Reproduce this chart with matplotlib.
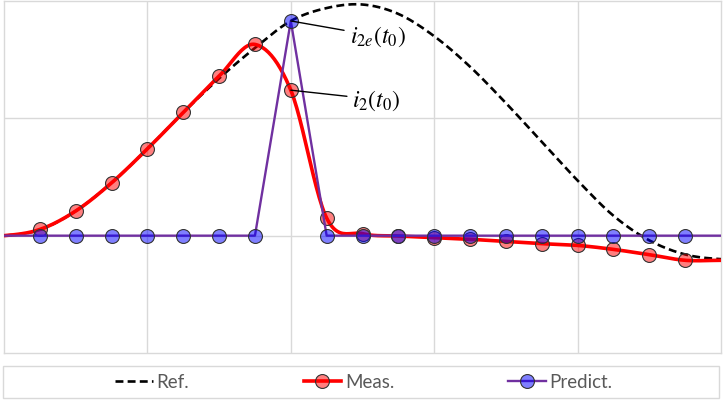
import numpy as np
import matplotlib.pyplot as plt
from matplotlib.patches import Rectangle

# sample positions (t axis, 0..5 in steps of 0.25)
t = [0.0, 0.25, 0.5, 0.75, 1.0, 1.25, 1.5, 1.75, 2.0, 2.25, 2.5,
     2.75, 3.0, 3.25, 3.5, 3.75, 4.0, 4.25, 4.5, 4.75, 5.0]

ref = [0.0, 0.05, 0.21, 0.45, 0.74, 1.05, 1.34, 1.60, 1.83, 1.94, 1.97,
       1.89, 1.70, 1.44, 1.13, 0.80, 0.47, 0.17, -0.04, -0.16, -0.20]

meas = [0.0, 0.053, 0.21, 0.45, 0.74, 1.05, 1.36, 1.63, 1.24, 0.15, 0.017,
        -0.003, -0.017, -0.031, -0.049, -0.068, -0.083, -0.117, -0.162, -0.21, -0.21]

predict = [0.0, 0.0, 0.0, 0.0, 0.0, 0.0, 0.0, 0.0, 1.83, 0.0, 0.0,
           0.0, 0.0, 0.0, 0.0, 0.0, 0.0, 0.0, 0.0, 0.0, 0.0]

labels = ["Ref.", "Meas.", "Predict."]


def smooth(x, y, n=24):
    # catmull-rom rendering of a smoothed line (like a spreadsheet "smoothed line")
    x = np.asarray(x, float)
    y = np.asarray(y, float)
    xs, ys = [], []
    for i in range(len(x) - 1):
        y0 = y[i - 1] if i > 0 else y[i]
        y3 = y[i + 2] if i + 2 < len(y) else y[i + 1]
        m1 = (y[i + 1] - y0) / 2
        m2 = (y3 - y[i]) / 2
        s = np.linspace(0, 1, n, endpoint=False)
        h00 = 2 * s**3 - 3 * s**2 + 1
        h10 = s**3 - 2 * s**2 + s
        h01 = -2 * s**3 + 3 * s**2
        h11 = s**3 - s**2
        xs.append(x[i] + s * (x[i + 1] - x[i]))
        ys.append(h00 * y[i] + h10 * m1 + h01 * y[i + 1] + h11 * m2)
    xs.append([x[-1]])
    ys.append([y[-1]])
    return np.concatenate(xs), np.concatenate(ys)


plt.rcParams['mathtext.fontset'] = 'stix'

fig = plt.figure(figsize=(7.24, 4.02), dpi=100)
ax = fig.add_axes([4 / 724, 1 - 354 / 402, 717 / 724, 352 / 402])

grid_c = "#d9d9d9"
ax.set_xlim(0, 5)
ax.set_ylim(-1, 2)
ax.set_xticks([1, 2, 3, 4])
ax.set_yticks([0, 1])
ax.tick_params(length=0, labelbottom=False, labelleft=False)
ax.grid(True, color=grid_c, linewidth=1)
for s in ax.spines.values():
    s.set_color(grid_c)
    s.set_linewidth(1)

mk = dict(marker="o", markersize=10, markeredgecolor="#333333", markeredgewidth=0.8)

xr, yr = smooth(t, ref)
ax.plot(xr, yr, color="black", linestyle=(0, (3, 1.6)), linewidth=1.9, zorder=3)

xm, ym = smooth(t, meas)
ax.plot(xm, ym, color="red", linewidth=2.6, zorder=4)
ax.plot(t[1:-1], meas[1:-1], linestyle="none", markerfacecolor=(1, 0, 0, 0.5),
        zorder=5, **mk)

ax.plot(t, predict, color="#7030a0", linewidth=1.7, markevery=slice(1, -1),
        markerfacecolor=(0, 0, 1, 0.5), zorder=6, **mk)

ax.annotate(r"$i_{2e}(t_0)$", xy=(2.0, predict[8]), xytext=(2.41, 1.70),
            ha="left", va="center", fontsize=17,
            arrowprops=dict(arrowstyle="-", color="black", lw=1, shrinkA=2, shrinkB=0),
            zorder=7)
ax.annotate(r"$i_2(t_0)$", xy=(2.0, meas[8]), xytext=(2.43, 1.16),
            ha="left", va="center", fontsize=17,
            arrowprops=dict(arrowstyle="-", color="black", lw=1, shrinkA=2, shrinkB=0),
            zorder=7)

# legend box
fig.patches.append(Rectangle((3 / 724, 1 - 399 / 402), 716 / 724, 32 / 402,
                             transform=fig.transFigure, fill=False,
                             edgecolor=grid_c, linewidth=1))

h_ref, = ax.plot([], [], color="black", linestyle=(0, (3, 1.6)), linewidth=1.9)
h_meas, = ax.plot([], [], color="red", linewidth=2.6,
                  markerfacecolor=(1, 0, 0, 0.5), **mk)
h_pred, = ax.plot([], [], color="#7030a0", linewidth=1.7,
                  markerfacecolor=(0, 0, 1, 0.5), **mk)
leg = fig.legend([h_ref, h_meas, h_pred], labels, loc="center",
                 bbox_to_anchor=(364 / 724, 1 - 383 / 402), ncol=3, frameon=False,
                 handlelength=2.0, handletextpad=0.2, columnspacing=6.1,
                 prop={"family": "Lato", "size": 13.5})
for txt in leg.get_texts():
    txt.set_color("#595959")

fig.savefig("out.png", dpi=100)
